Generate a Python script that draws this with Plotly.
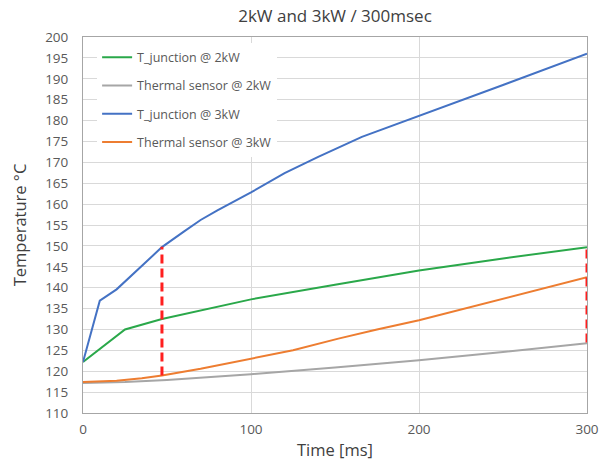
import plotly.graph_objects as go

# Data
t_tj2 = [0, 25, 47, 100, 150, 200, 250, 300]
tj_2kw = [122.2, 130.0, 132.5, 137.2, 140.7, 144.1, 147.0, 149.7]

t_ts2 = [0, 25, 50, 100, 150, 200, 250, 300]
ts_2kw = [117.2, 117.4, 117.9, 119.3, 120.9, 122.6, 124.6, 126.7]

t_tj3 = [0, 10, 20, 30, 40, 47, 60, 70, 80, 93, 100, 120, 140, 166, 200, 250, 300]
tj_3kw = [122.2, 136.9, 139.6, 143.3, 147.1, 149.7, 153.4, 156.2, 158.5, 161.3,
          162.8, 167.4, 171.3, 176.1, 181.1, 188.5, 196.0]

t_ts3 = [0, 20, 35, 47, 70, 100, 125, 152, 175, 200, 250, 300]
ts_3kw = [117.4, 117.7, 118.3, 119.0, 120.6, 123.0, 125.0, 127.8, 130.0, 132.2, 137.3, 142.5]

# Red dashed marker lines (time, low temp, high temp)
marker_times = [47, 300]
marker_low = [119.0, 126.9]
marker_high = [149.8, 149.8]

series = [
    ("T_junction @ 2kW", t_tj2, tj_2kw, "#2AA84A"),
    ("Thermal sensor @ 2kW", t_ts2, ts_2kw, "#A6A6A6"),
    ("T_junction @ 3kW", t_tj3, tj_3kw, "#4472C4"),
    ("Thermal sensor @ 3kW", t_ts3, ts_3kw, "#ED7D31"),
]

fig = go.Figure()
for i, (name, xs, ys, col) in enumerate(series):
    fig.add_trace(go.Scatter(x=xs, y=ys, mode="lines", name=name,
                             line=dict(color=col, width=2),
                             legendgroup=f"g{i}"))

for tm, lo, hi in zip(marker_times, marker_low, marker_high):
    fig.add_trace(go.Scatter(x=[tm, tm], y=[lo, hi], mode="lines",
                             line=dict(color="#FF1F1F", width=3, dash="9px,5px"),
                             showlegend=False, hoverinfo="skip"))

font_family = "Open Sans, Liberation Sans, sans-serif"
fig.update_layout(
    width=599, height=461,
    margin=dict(l=83, r=12, t=37, b=48),
    paper_bgcolor="white", plot_bgcolor="white",
    font=dict(family=font_family, color="#595959", size=13),
    title=dict(text="2kW and 3kW / 300msec", x=0.5, xref="paper",
               y=1 - 16 / 461, yanchor="middle",
               font=dict(size=17, color="#404040", family=font_family)),
    legend=dict(x=0.028, y=0.985, xanchor="left", yanchor="top",
                bgcolor="white", borderwidth=0, tracegroupgap=9,
                font=dict(size=12.5, color="#595959")),
    showlegend=True,
)
fig.update_xaxes(range=[0, 300], tickvals=[0, 100, 200, 300],
                 showgrid=True, gridcolor="#D9D9D9", gridwidth=1,
                 showline=True, linecolor="#A6A6A6", linewidth=1, mirror=True,
                 zeroline=False, ticks="", ticklabelstandoff=4, automargin=False,
                 tickfont=dict(size=13.5),
                 title=dict(text="Time [ms]", font=dict(size=16.5, color="#404040"), standoff=8))
fig.update_yaxes(range=[110, 200], dtick=5,
                 showgrid=True, gridcolor="#D9D9D9", gridwidth=1,
                 showline=True, linecolor="#A6A6A6", linewidth=1, mirror=True,
                 zeroline=False, ticks="", ticklabelstandoff=11, automargin=False,
                 tickfont=dict(size=13.5),
                 title=dict(text="Temperature °C", font=dict(size=16.5, color="#404040"), standoff=14))

fig.write_html("out.html", config={"displayModeBar": False},
               post_script="document.body.style.margin='0';document.body.style.overflow='hidden';")
